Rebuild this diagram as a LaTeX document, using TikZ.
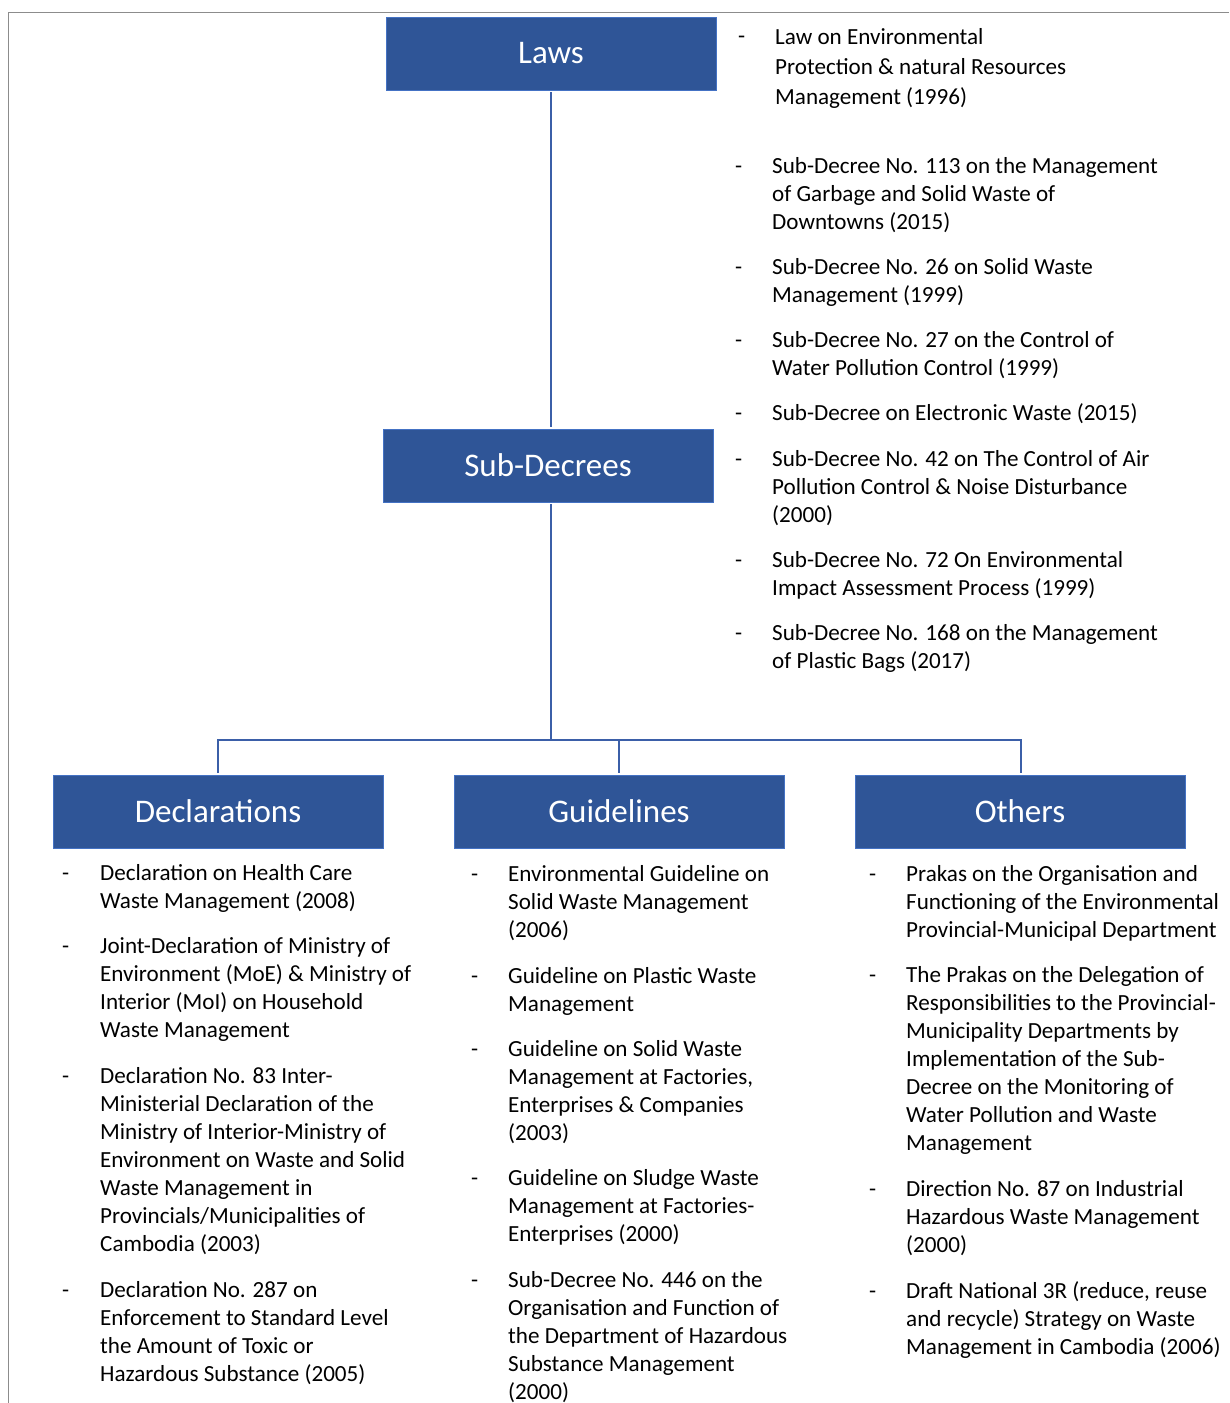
\documentclass[tikz,border=0pt]{standalone}
\usepackage{fontspec}
\setmainfont{Carlito}
\definecolor{boxblue}{HTML}{2F5597}
\definecolor{boxedge}{HTML}{4472C4}
\definecolor{lineblue}{HTML}{3B5FA8}
\definecolor{framegray}{HTML}{8C8C8C}
\newcommand{\itemfnt}{\fontsize{23.1}{28}\selectfont}
\newcommand{\lawfnt}{\fontsize{23.1}{30}\selectfont}
\begin{document}
\begin{tikzpicture}[x=1pt,y=-1pt,
  titlebox/.style={draw=boxedge,line width=0.8pt,fill=boxblue,text=white,minimum width=330pt,minimum height=73pt,inner sep=0pt,font=\fontsize{33}{38}\selectfont},
  itembox/.style={anchor=north west,inner sep=0pt,align=left,font=\itemfnt,yshift=12.8pt},
  dashmark/.style={anchor=base west,inner sep=0pt,font=\itemfnt,yshift=-7.3pt},
  conn/.style={draw=lineblue,line width=1.6pt}]
\useasboundingbox (0,0) rectangle (1229,1403);
\fill[white] (0,0) rectangle (1229,1403);
\draw[framegray,line width=1.4pt] (8.5,1403) -- (8.5,12.5) -- (1229,12.5);

% title boxes
\node[titlebox] (laws) at (551,53.5) {Laws};
\node[titlebox] (sub) at (548,465.5) {Sub-Decrees};
\node[titlebox] (decl) at (218,811.5) {Declarations};
\node[titlebox] (guide) at (619,811.5) {Guidelines};
\node[titlebox] (oth) at (1020,811.5) {Others};

% connectors
\coordinate (lb) at (551,92);
\coordinate (st) at (551,427);
\coordinate (sb) at (551,504);
\coordinate (hj) at (551,740);
\coordinate (hl) at (218,740);
\coordinate (hm) at (619,740);
\coordinate (hr) at (1021,740);
\coordinate (dl) at (218,773);
\coordinate (dm) at (619,773);
\coordinate (dr) at (1021,773);
\draw[conn] (lb) -- (st);
\draw[conn] (sb) -- (hj);
\draw[conn] (dl) -- (hl) -- (hr) -- (dr);
\draw[conn] (hm) -- (dm);

% laws list
\node[dashmark] (ld1) at (738,36) {-};
\node[itembox,font=\lawfnt] (li1) at (775,36) {\strut Law on Environmental\\Protection \& natural Resources\\Management (1996)};

% sub-decree list
\node[dashmark] (sd1) at (735,166) {-};
\node[itembox] (si1) at (772,166) {\strut Sub-Decree No. 113 on the Management\\of Garbage and Solid Waste of\\Downtowns (2015)};
\node[dashmark] (sd2) at (735,267) {-};
\node[itembox] (si2) at (772,267) {\strut Sub-Decree No. 26 on Solid Waste\\Management (1999)};
\node[dashmark] (sd3) at (735,340) {-};
\node[itembox] (si3) at (772,340) {\strut Sub-Decree No. 27 on the Control of\\Water Pollution Control (1999)};
\node[dashmark] (sd4) at (735,413) {-};
\node[itembox] (si4) at (772,413) {\strut Sub-Decree on Electronic Waste (2015)};
\node[dashmark] (sd5) at (735,459) {-};
\node[itembox] (si5) at (772,459) {\strut Sub-Decree No. 42 on The Control of Air\\Pollution Control \& Noise Disturbance\\(2000)};
\node[dashmark] (sd6) at (735,560) {-};
\node[itembox] (si6) at (772,560) {\strut Sub-Decree No. 72 On Environmental\\Impact Assessment Process (1999)};
\node[dashmark] (sd7) at (735,633) {-};
\node[itembox] (si7) at (772,633) {\strut Sub-Decree No. 168 on the Management\\of Plastic Bags (2017)};

% declarations list
\node[dashmark] (dd1) at (62,873) {-};
\node[itembox] (di1) at (100,873) {\strut Declaration on Health Care\\Waste Management (2008)};
\node[dashmark] (dd2) at (62,946) {-};
\node[itembox] (di2) at (100,946) {\strut Joint-Declaration of Ministry of\\Environment (MoE) \& Ministry of\\Interior (MoI) on Household\\Waste Management};
\node[dashmark] (dd3) at (62,1076) {-};
\node[itembox] (di3) at (100,1076) {\strut Declaration No. 83 Inter-\\Ministerial Declaration of the\\Ministry of Interior-Ministry of\\Environment on Waste and Solid\\Waste Management in\\Provincials/Municipalities of\\Cambodia (2003)};
\node[dashmark] (dd4) at (62,1290) {-};
\node[itembox] (di4) at (100,1290) {\strut Declaration No. 287 on\\Enforcement to Standard Level\\the Amount of Toxic or\\Hazardous Substance (2005)};

% guidelines list
\node[dashmark] (gd1) at (471,874) {-};
\node[itembox] (gi1) at (508,874) {\strut Environmental Guideline on\\Solid Waste Management\\(2006)};
\node[dashmark] (gd2) at (471,976) {-};
\node[itembox] (gi2) at (508,976) {\strut Guideline on Plastic Waste\\Management};
\node[dashmark] (gd3) at (471,1049) {-};
\node[itembox] (gi3) at (508,1049) {\strut Guideline on Solid Waste\\Management at Factories,\\Enterprises \& Companies\\(2003)};
\node[dashmark] (gd4) at (471,1178) {-};
\node[itembox] (gi4) at (508,1178) {\strut Guideline on Sludge Waste\\Management at Factories-\\Enterprises (2000)};
\node[dashmark] (gd5) at (471,1280) {-};
\node[itembox] (gi5) at (508,1280) {\strut Sub-Decree No. 446 on the\\Organisation and Function of\\the Department of Hazardous\\Substance Management\\(2000)};

% others list
\node[dashmark] (od1) at (869,874) {-};
\node[itembox] (oi1) at (906,874) {\strut Prakas on the Organisation and\\Functioning of the Environmental\\Provincial-Municipal Department};
\node[dashmark] (od2) at (869,975) {-};
\node[itembox] (oi2) at (906,975) {\strut The Prakas on the Delegation of\\Responsibilities to the Provincial-\\Municipality Departments by\\Implementation of the Sub-\\Decree on the Monitoring of\\Water Pollution and Waste\\Management};
\node[dashmark] (od3) at (869,1189) {-};
\node[itembox] (oi3) at (906,1189) {\strut Direction No. 87 on Industrial\\Hazardous Waste Management\\(2000)};
\node[dashmark] (od4) at (869,1291) {-};
\node[itembox] (oi4) at (906,1291) {\strut Draft National 3R (reduce, reuse\\and recycle) Strategy on Waste\\Management in Cambodia (2006)};
\end{tikzpicture}
\end{document}
